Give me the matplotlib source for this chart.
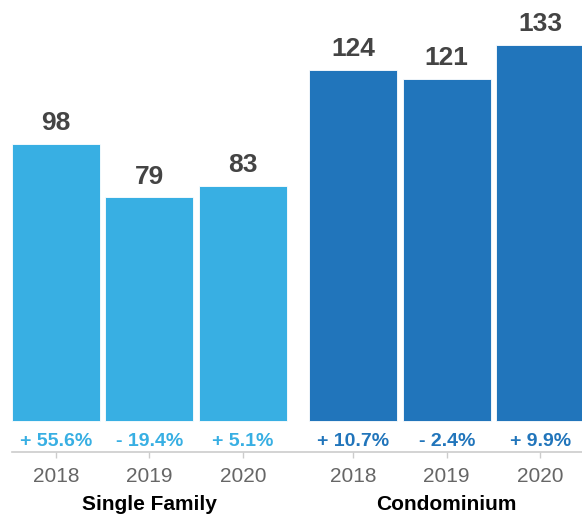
import matplotlib
matplotlib.use("Agg")
import matplotlib.pyplot as plt

plt.rcParams['font.family'] = ['Liberation Sans', 'DejaVu Sans']

# dados
groups = ["Single Family", "Condominium"]
years = ["2018", "2019", "2020"]
single_family = [98, 79, 83]
condominium = [124, 121, 133]
sf_change = ["+ 55.6%", "- 19.4%", "+ 5.1%"]
condo_change = ["+ 10.7%", "- 2.4%", "+ 9.9%"]

cores = ["#38afe3", "#2175bb"]
group_gap = 3.18  # deslocamento do segundo grupo
largura = 0.94

W, H = 582, 519
fig = plt.figure(figsize=(W / 100, H / 100), dpi=100)
ax = fig.add_axes([12 / W, (H - 452) / H, (W - 12) / W, 452 / H])

series = [single_family, condominium]
changes = [sf_change, condo_change]
ticks = []
for g, (vals, chg) in enumerate(zip(series, changes)):
    xs = [i + g * group_gap for i in range(len(vals))]
    ticks += xs
    ax.bar(xs, vals, width=largura, color=cores[g], edgecolor="white", linewidth=0.6)
    for i, (x, v, c) in enumerate(zip(xs, vals, chg)):
        ax.annotate(str(v), (x, v), xytext=(0, 10), textcoords="offset points",
                    ha="center", va="baseline", fontsize=19, fontweight="bold",
                    color="#444444")
        ax.annotate(c, (x, 0), xycoords=ax.get_xaxis_transform(), xytext=(0, 4),
                    textcoords="offset points", ha="center", va="baseline",
                    fontsize=14, fontweight="bold", color=cores[g])
        ax.annotate(years[i], (x, 0), xycoords=ax.get_xaxis_transform(),
                    xytext=(0, -21.6), textcoords="offset points", ha="center",
                    va="baseline", fontsize=15, color="#666666")
    ax.annotate(groups[g], (xs[1], 0), xycoords=ax.get_xaxis_transform(),
                xytext=(0, -41.5), textcoords="offset points", ha="center",
                va="baseline", fontsize=15, fontweight="bold", color="black")

ax.set_xlim(-largura / 2, (W - 57) / 93.3)
ax.set_ylim(-(452 - 421) / 2.83, 421 / 2.83)

ax.set_xticks(ticks)
ax.set_xticklabels([])
ax.tick_params(axis="x", length=4, color="#cccccc", width=1)
ax.set_yticks([])
for s in ["top", "right", "left"]:
    ax.spines[s].set_visible(False)
ax.spines["bottom"].set_color("#cccccc")
ax.spines["bottom"].set_linewidth(1.2)

fig.savefig("out.png", dpi=100)
